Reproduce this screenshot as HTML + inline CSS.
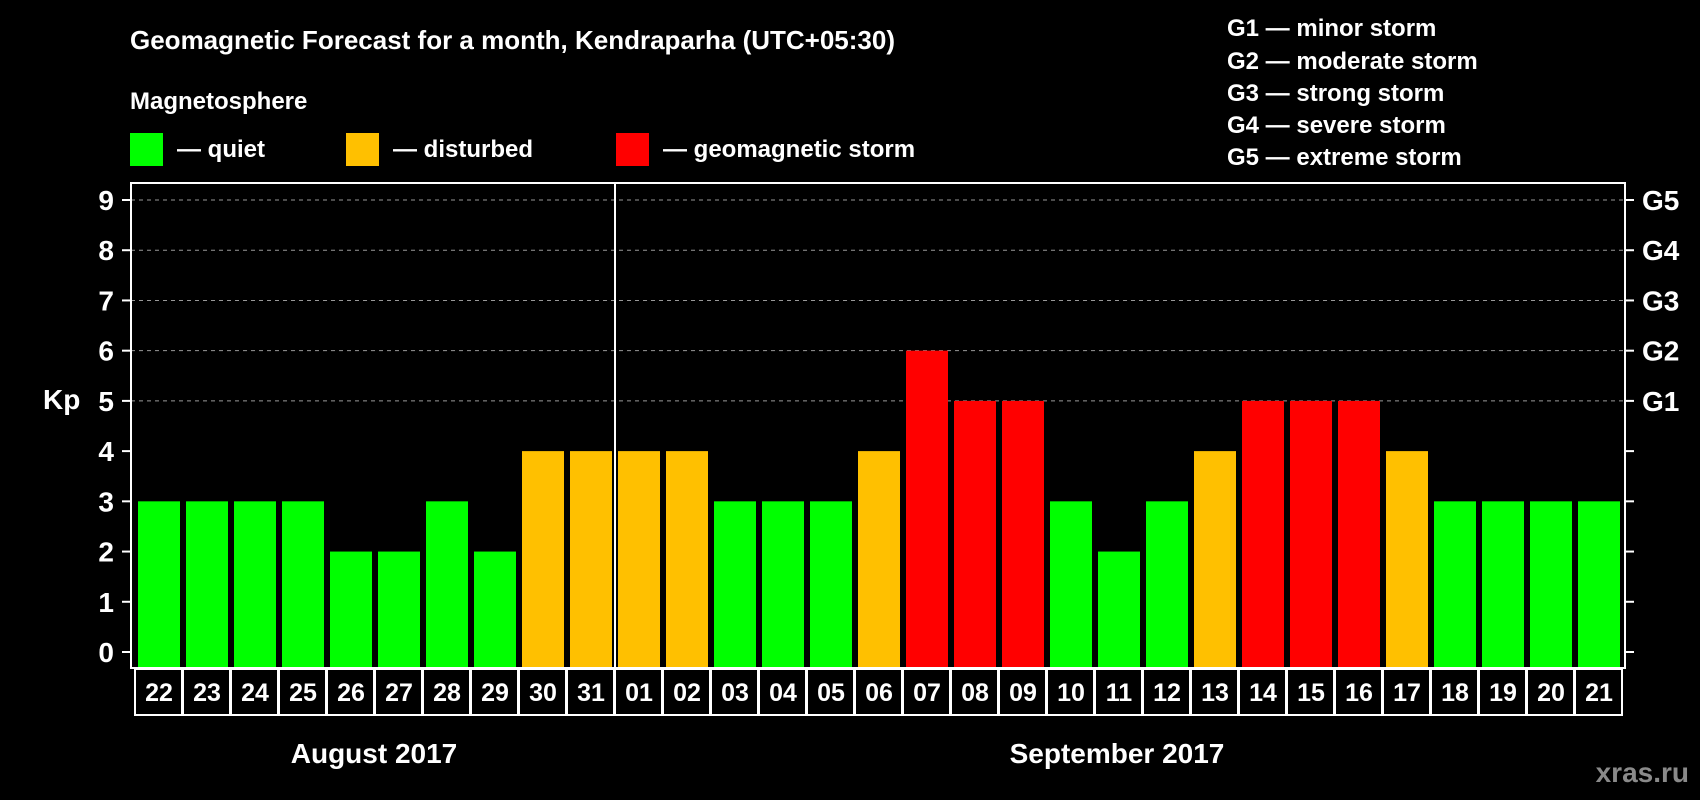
<!DOCTYPE html>
<html><head><meta charset="utf-8"><style>
html,body{margin:0;padding:0;background:#000;}
svg{display:block;font-family:"Liberation Sans",Arial,sans-serif;font-weight:bold;}
</style></head><body>
<svg id="chart" width="1700" height="800" viewBox="0 0 1700 800" xmlns="http://www.w3.org/2000/svg">
<rect width="1700" height="800" fill="#000"/>
<text x="130" y="49" fill="#fff" font-size="26">Geomagnetic Forecast for a month, Kendraparha (UTC+05:30)</text>
<text x="130" y="109" fill="#fff" font-size="24">Magnetosphere</text>
<rect x="130" y="133" width="33" height="33" fill="#00ff00"/>
<text x="177" y="157" fill="#fff" font-size="24">— quiet</text>
<rect x="346" y="133" width="33" height="33" fill="#ffc000"/>
<text x="393" y="157" fill="#fff" font-size="24">— disturbed</text>
<rect x="616" y="133" width="33" height="33" fill="#ff0000"/>
<text x="663" y="157" fill="#fff" font-size="24">— geomagnetic storm</text>
<g fill="#fff" font-size="24">
<text x="1227" y="36">G1 — minor storm</text>
<text x="1227" y="69">G2 — moderate storm</text>
<text x="1227" y="101">G3 — strong storm</text>
<text x="1227" y="133">G4 — severe storm</text>
<text x="1227" y="165">G5 — extreme storm</text>
</g>
<text x="43" y="409" fill="#fff" font-size="28">Kp</text>
<g id="grid"></g>
<g id="bars"></g>
<g id="axes"></g>
<text x="374" y="763" fill="#fff" font-size="28" text-anchor="middle">August 2017</text>
<text x="1117" y="763" fill="#fff" font-size="28" text-anchor="middle">September 2017</text>
<text x="1689" y="782" fill="#8a8a8a" font-size="28" text-anchor="end">xras.ru</text>
</svg>
<script>
const days = ["22","23","24","25","26","27","28","29","30","31","01","02","03","04","05","06","07","08","09","10","11","12","13","14","15","16","17","18","19","20","21"];
const kpValues = [3,3,3,3,2,2,3,2,4,4,4,4,3,3,3,4,6,5,5,3,2,3,4,5,5,5,4,3,3,3,3];
const yTicks = [0,1,2,3,4,5,6,7,8,9];
const gLabels = ["G1","G2","G3","G4","G5"];
const gLevels = [5,6,7,8,9];

const NS = "http://www.w3.org/2000/svg";
const L = 131, R = 1625, T = 183, B = 668;
const y0 = 652, unit = (652 - 200) / 9;
const x0 = 134, pitch = 48;
function yScale(v){ return y0 - v * unit; }
function xScale(i){ return x0 + i * pitch; }
function mk(tag, attrs, parent){ const e = document.createElementNS(NS, tag); for (const k in attrs) e.setAttribute(k, attrs[k]); parent.appendChild(e); return e; }
function color(v){ return v >= 5 ? "#ff0000" : (v >= 4 ? "#ffc000" : "#00ff00"); }

const grid = document.getElementById("grid");
gLevels.forEach(v => {
  const ln = mk("line", {x1: L, x2: R, y1: yScale(v), y2: yScale(v), stroke: "#999", "stroke-width": 1, "stroke-dasharray": "4,4"}, grid);
  
  
});

const bars = document.getElementById("bars");
kpValues.forEach((v, i) => {
  const x = xScale(i) + 4, yt = yScale(v);
  const r = mk("rect", {x: x, y: yt, width: 42, height: B - yt, fill: color(v)}, bars);
  
  
});

const axes = document.getElementById("axes");
const frame = mk("rect", {x: L, y: T, width: R - L, height: B - T, fill: "none", stroke: "#fff", "stroke-width": 2}, axes);


const sep = mk("line", {x1: xScale(10) + 1, x2: xScale(10) + 1, y1: T, y2: B, stroke: "#fff", "stroke-width": 2}, axes);


yTicks.forEach(v => {
  const y = yScale(v);
  mk("line", {x1: L - 9, x2: L, y1: y, y2: y, stroke: "#fff", "stroke-width": 2}, axes);
  mk("line", {x1: R, x2: R + 9, y1: y, y2: y, stroke: "#fff", "stroke-width": 2}, axes);
  const t = mk("text", {x: 114, y: y + 10, fill: "#fff", "font-size": 28, "text-anchor": "end"}, axes);
  t.textContent = v;
  
  
});
gLevels.forEach((v, i) => {
  const t = mk("text", {x: 1642, y: yScale(v) + 10, fill: "#fff", "font-size": 28}, axes);
  t.textContent = gLabels[i];
  
  
});
days.forEach((d, i) => {
  const c = mk("rect", {x: xScale(i) + 1, y: B + 1, width: pitch - 1, height: 46, fill: "none", stroke: "#fff", "stroke-width": 2}, axes);
  
  
  const t = mk("text", {x: xScale(i) + pitch / 2 + 1, y: B + 33, fill: "#fff", "font-size": 25, "text-anchor": "middle"}, axes);
  t.textContent = d;
  
  
});
</script>
</body></html>
